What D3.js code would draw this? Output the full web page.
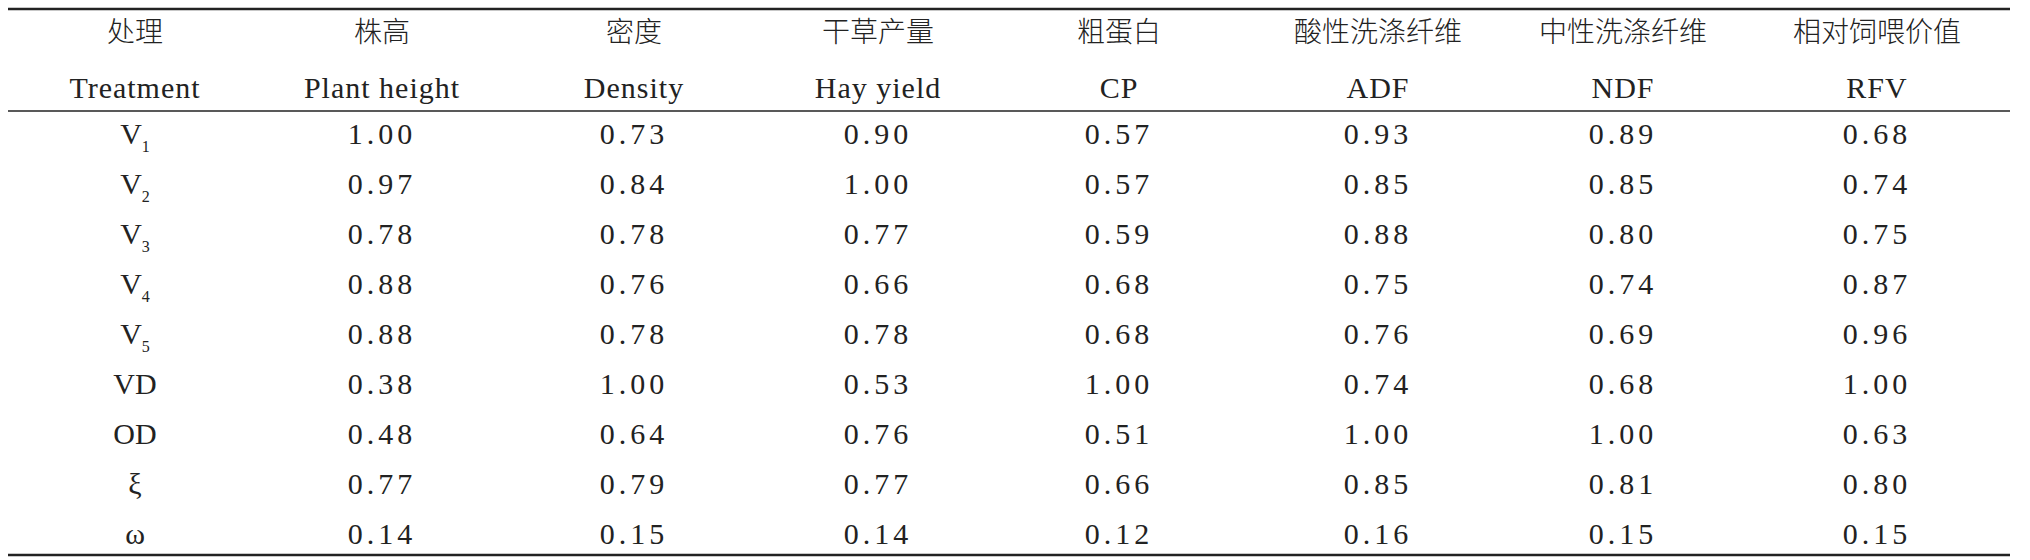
<!DOCTYPE html>
<html><head><meta charset="utf-8">
<script src="https://cdn.jsdelivr.net/npm/d3@7"></script>
<style>body{margin:0;background:#fff}</style>
</head><body>
<script>
// header rows and table values
const headZh = ["处理", "株高", "密度", "干草产量", "粗蛋白", "酸性洗涤纤维", "中性洗涤纤维", "相对饲喂价值"];
const headEn = ["Treatment", "Plant height", "Density", "Hay yield", "CP", "ADF", "NDF", "RFV"];
const treatments = [["V", "1"], ["V", "2"], ["V", "3"], ["V", "4"], ["V", "5"], ["VD", ""], ["OD", ""], ["ξ", ""], ["ω", ""]];
const plantHeight = ["1.00", "0.97", "0.78", "0.88", "0.88", "0.38", "0.48", "0.77", "0.14"];
const density = ["0.73", "0.84", "0.78", "0.76", "0.78", "1.00", "0.64", "0.79", "0.15"];
const hayYield = ["0.90", "1.00", "0.77", "0.66", "0.78", "0.53", "0.76", "0.77", "0.14"];
const cp = ["0.57", "0.57", "0.59", "0.68", "0.68", "1.00", "0.51", "0.66", "0.12"];
const adf = ["0.93", "0.85", "0.88", "0.75", "0.76", "0.74", "1.00", "0.85", "0.16"];
const ndf = ["0.89", "0.85", "0.80", "0.74", "0.69", "0.68", "1.00", "0.81", "0.15"];
const rfv = ["0.68", "0.74", "0.75", "0.87", "0.96", "1.00", "0.63", "0.80", "0.15"];

const W = 2030, H = 560;
const colX = [135, 382, 634, 878, 1119, 1378, 1623, 1877];
const cols = [plantHeight, density, hayYield, cp, adf, ndf, rfv];

const svg = d3.select("body").append("svg").attr("width", W).attr("height", H);
const y = d3.scalePoint().domain(d3.range(treatments.length)).range([133, 533]);
const serif = "'Times New Roman', 'Liberation Serif', 'DejaVu Serif', serif";
const cjk = "'Noto Sans CJK SC', sans-serif";

// rules
const lines = [[9, 2.6], [111, 1.4], [555, 2.6]];
svg.selectAll("line.rule").data(lines).enter().append("line")
    .attr("x1", 8).attr("x2", 2010)
    .attr("y1", d => d[0]).attr("y2", d => d[0])
    .attr("stroke", "#222").attr("stroke-width", d => d[1]);

svg.selectAll("text.zh").data(headZh).enter().append("text")
    .attr("x", (d, i) => colX[i]).attr("y", 32).attr("dy", "0.35em")
    .attr("text-anchor", "middle").style("font-family", cjk).style("font-size", "28px")
    .style("font-weight", 300).attr("fill", "#222").text(d => d);

svg.selectAll("text.en").data(headEn).enter().append("text")
    .attr("x", (d, i) => colX[i]).attr("y", 87).attr("dy", "0.35em")
    .attr("text-anchor", "middle").style("font-family", serif).style("font-size", "30px")
    .style("letter-spacing", "1px").attr("fill", "#222").text(d => d);

// treatment column
const tr = svg.selectAll("text.tr").data(treatments).enter().append("text")
    .attr("x", colX[0]).attr("y", (d, i) => y(i)).attr("dy", "0.35em")
    .attr("text-anchor", "middle").style("font-family", serif).style("font-size", "30px")
    .attr("fill", "#222");
tr.append("tspan").text(d => d[0]);
tr.filter(d => d[1]).append("tspan").attr("dy", 8).style("font-size", "16px").text(d => d[1]);

// value columns
cols.forEach((c, j) => {
    svg.selectAll("text.v" + j).data(c).enter().append("text")
        .attr("x", colX[j + 1]).attr("y", (d, i) => y(i)).attr("dy", "0.35em")
        .attr("text-anchor", "middle").style("font-family", serif).style("font-size", "30px")
        .style("letter-spacing", "4px").attr("fill", "#222").text(d => d);
});
</script>
</body></html>
